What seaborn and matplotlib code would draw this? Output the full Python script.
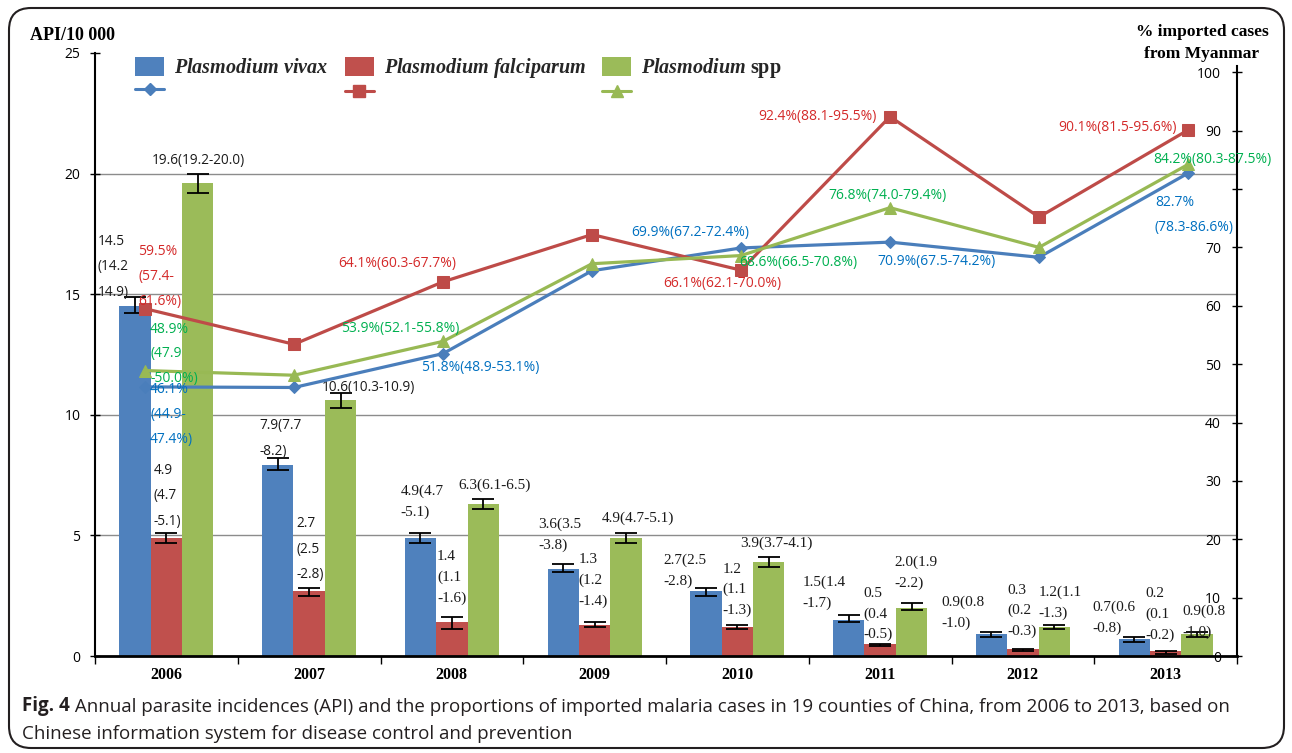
import numpy as np
import pandas as pd
import seaborn as sns
import matplotlib.pyplot as plt
from matplotlib.patches import Patch, FancyBboxPatch
from matplotlib.lines import Line2D

# ---- data ----
years = ['2006', '2007', '2008', '2009', '2010', '2011', '2012', '2013']
species = ['vivax', 'falciparum', 'spp']

# API per 10 000 with CI
vivax_api = [14.5, 7.9, 4.9, 3.6, 2.7, 1.5, 0.9, 0.7]
vivax_lo = [14.2, 7.7, 4.7, 3.5, 2.5, 1.4, 0.8, 0.6]
vivax_hi = [14.9, 8.2, 5.1, 3.8, 2.8, 1.7, 1.0, 0.8]
falc_api = [4.9, 2.7, 1.4, 1.3, 1.2, 0.5, 0.3, 0.2]
falc_lo = [4.7, 2.5, 1.1, 1.2, 1.1, 0.4, 0.2, 0.1]
falc_hi = [5.1, 2.8, 1.6, 1.4, 1.3, 0.5, 0.3, 0.2]
spp_api = [19.6, 10.6, 6.3, 4.9, 3.9, 2.0, 1.2, 0.9]
spp_lo = [19.2, 10.3, 6.1, 4.7, 3.7, 1.9, 1.1, 0.8]
spp_hi = [20.0, 10.9, 6.5, 5.1, 4.1, 2.2, 1.3, 1.0]

# % imported cases from Myanmar (CI only where labelled)
vivax_pct = [46.1, 46.0, 51.8, 66.0, 69.9, 70.9, 68.3, 82.7]
vivax_pct_lo = [44.9, None, 48.9, None, 67.2, 67.5, None, 78.3]
vivax_pct_hi = [47.4, None, 53.1, None, 72.4, 74.2, None, 86.6]
falc_pct = [59.5, 53.4, 64.1, 72.2, 66.1, 92.4, 75.2, 90.1]
falc_pct_lo = [57.4, None, 60.3, None, 62.1, 88.1, None, 81.5]
falc_pct_hi = [61.6, None, 67.7, None, 70.0, 95.5, None, 95.6]
spp_pct = [48.9, 48.1, 53.9, 67.2, 68.6, 76.8, 70.0, 84.2]
spp_pct_lo = [47.9, None, 52.1, None, 66.5, 74.0, None, 80.3]
spp_pct_hi = [50.0, None, 55.8, None, 70.8, 79.4, None, 87.5]

# ---- styling / label layout ----
bar_colors = ['#4F81BD', '#C0504D', '#9BBB59']
line_colors = ['#4A7EBB', '#BE4B48', '#98B954']
text_colors = ['#0070C0', '#D42A2A', '#00B050']
markers = ['D', 's', '^']
marker_sizes = [6.5, 9, 9]

T3 = "{v}\n({lo}\n-{hi})"
T3n = "{v}\n({lo}\n{hi})"
T2 = "{v}({lo}\n-{hi})"
T1 = "{v}({lo}-{hi})"
# (dx, dy) in pixels from the top of the error bar, template
bar_label_layout = [
    [(-37, 63, T3n), (-18, 40, T2), (-20, 48, T2), (-25, 47, T2), (-43, 35, T2), (-46, 39, T2), (-50, 36, T2), (-42, 36, T2)],
    [(-13, 70, T3), (-13, 72, T3), (-15, 67, T3), (-16, 69, T3), (-15, 62, T3), (-17, 57, T3), (-15, 65, T3), (-20, 64, T3)],
    [(-46, 21, T1), (-19, 13, T1), (-25, 21, T1), (-24, 21, T1), (-29, 21, T1), (-17, 47, T2), (-16, 39, T2), (-15, 27, T2)],
]

PS3 = "{v}%\n({lo}-\n{hi}%)"
PG3 = "{v}%\n({lo}\n-{hi}%)"
P1 = "{v}%({lo}-{hi}%)"
P2 = "{v}%\n({lo}-{hi}%)"
# year index -> (dx, dy, template, ha, va), offsets in pixels from the line point
pct_label_layout = [
    {0: (5, 5, PS3, 'left', 'top'), 2: (37, -13.5, P1, 'center', 'center'), 4: (-51, 15, P1, 'center', 'center'),
     5: (47, -19, P1, 'center', 'center'), 7: (-33, -22, P2, 'left', 'top')},
    {0: (-7, 64.5, PS3, 'left', 'top'), 2: (-46, 18.7, P1, 'center', 'center'), 4: (-19, -13, P1, 'center', 'center'),
     5: (-73, 0, P1, 'center', 'center'), 7: (-11, 3, P1, 'right', 'center')},
    {0: (5, 49, PG3, 'left', 'top'), 2: (-43, 13, P1, 'center', 'center'), 4: (57, -7, P1, 'center', 'center'),
     5: (-2, 12.5, P1, 'center', 'center'), 7: (-35, 5, P1, 'left', 'center')},
]

sns.set_theme(style='white')
plt.rcParams['font.family'] = ['Open Sans', 'DejaVu Sans']
plt.rcParams['mathtext.fontset'] = 'custom'
plt.rcParams['mathtext.it'] = 'Liberation Serif:italic:bold'
plt.rcParams['mathtext.rm'] = 'Liberation Serif:bold'

df = pd.DataFrame({
    'year': years * 3,
    'species': np.repeat(species, len(years)),
    'api': vivax_api + falc_api + spp_api,
})

W, H = 1292, 753
fig = plt.figure(figsize=(W / 100, H / 100), dpi=100)
ax = fig.add_axes([95 / W, 97 / H, 1142 / W, 603 / H])

sns.barplot(data=df, x='year', y='api', hue='species', hue_order=species,
            palette=bar_colors, width=0.66, saturation=1, errorbar=None,
            legend=False, linewidth=0, ax=ax)

vals = [vivax_api, falc_api, spp_api]
los = [vivax_lo, falc_lo, spp_lo]
his = [vivax_hi, falc_hi, spp_hi]
bar_containers = list(ax.containers)[:3]
for k, cont in enumerate(bar_containers):
    xs = [b.get_x() + b.get_width() / 2 for b in cont.patches]
    v = np.array(vals[k])
    ax.errorbar(xs, v, yerr=[v - np.array(los[k]), np.array(his[k]) - v], fmt='none',
                ecolor='black', elinewidth=1.3, capsize=8, capthick=1.3, zorder=3)
    for i, x in enumerate(xs):
        dx, dy, tpl = bar_label_layout[k][i]
        txt = tpl.format(v=f"{vals[k][i]:.1f}", lo=f"{los[k][i]:.1f}", hi=f"{his[k][i]:.1f}")
        serif = i >= 2
        ax.annotate(txt, xy=(x, his[k][i]), xytext=(dx, dy), textcoords='offset pixels',
                    ha='left', va='top', color='#1a1a1a',
                    fontsize=11 if serif else 9.8,
                    fontfamily='Liberation Serif' if serif else 'Open Sans',
                    linespacing=1.7 if serif else 1.95, zorder=5)

ax.set_xlim(-0.5, 7.5)
ax.set_ylim(0, 25)
ax.set_yticks(range(0, 26, 5))
ax.set_xticks(range(len(years)), years, fontfamily='Liberation Serif', fontweight='bold', fontsize=11.5)
ax.set_xticks(np.arange(-0.5, len(years), 1), minor=True)
ax.set_xlabel('')
ax.set_ylabel('')
ax.grid(axis='y', color='#8c8c8c', linewidth=1)
ax.set_axisbelow(True)
gl = ax.get_ygridlines()
gl[0].set_visible(False)
gl[-1].set_visible(False)
for s in ['top', 'right']:
    ax.spines[s].set_visible(False)
ax.spines['left'].set_linewidth(1.5)
ax.spines['left'].set_color('black')
ax.spines['bottom'].set_linewidth(2)
ax.spines['bottom'].set_color('black')
ax.tick_params(axis='y', left=True, direction='inout', length=7, width=1, pad=7,
               labelsize=10, colors='black')
ax.tick_params(axis='x', which='major', bottom=True, length=0, pad=8, colors='black')
ax.tick_params(axis='x', which='minor', bottom=True, length=6, width=1, direction='out', color='black')

# secondary axis for the % lines
ax2 = fig.add_axes(ax.get_position())
ax2.patch.set_visible(False)
ax2.set_xlim(-0.3356, 7.329)
ax2.set_ylim(0, 103.3)
ax2.set_xticks([])
for s in ['left', 'top', 'bottom']:
    ax2.spines[s].set_visible(False)
ax2.spines['right'].set_linewidth(1.5)
ax2.spines['right'].set_color('black')
ax2.spines['right'].set_bounds(0, 101)
ax2.yaxis.tick_right()
pct_ticks = list(range(0, 101, 10))
ax2.set_yticks(pct_ticks, labels=['' if t == 80 else str(t) for t in pct_ticks], ha='right')
ax2.tick_params(axis='y', right=True, direction='inout', length=7, width=1, pad=-15,
                labelsize=10, colors='black')

pcts = [vivax_pct, falc_pct, spp_pct]
pct_los = [vivax_pct_lo, falc_pct_lo, spp_pct_lo]
pct_his = [vivax_pct_hi, falc_pct_hi, spp_pct_hi]
line_x = np.arange(len(years))
for k in range(3):
    sns.lineplot(x=line_x, y=pcts[k], color=line_colors[k], marker=markers[k],
                 markersize=marker_sizes[k], markeredgecolor=line_colors[k],
                 linewidth=2.3, ax=ax2, zorder=3)
    for i, (dx, dy, tpl, ha, va) in pct_label_layout[k].items():
        txt = tpl.format(v=f"{pcts[k][i]:.1f}", lo=f"{pct_los[k][i]:.1f}", hi=f"{pct_his[k][i]:.1f}")
        ax2.annotate(txt, xy=(i, pcts[k][i]), xytext=(dx, dy), textcoords='offset pixels',
                     ha=ha, va=va, color=text_colors[k], fontsize=10, linespacing=1.9, zorder=5)
ax2.set_xlabel('')
ax2.set_ylabel('')

# legend: patches on top row, line samples below
handles, labels = [], []
names = [r'$\it{Plasmodium\ vivax}$', r'$\it{Plasmodium\ falciparum}$', r'$\it{Plasmodium}$ spp']
for k in range(3):
    handles.append(Patch(facecolor=bar_colors[k], edgecolor='none'))
    labels.append(names[k])
    handles.append(Line2D([], [], color=line_colors[k], marker=markers[k],
                          markersize=marker_sizes[k], linewidth=2.2))
    labels.append('')
ax.legend(handles, labels, ncol=3, loc='upper left', bbox_to_anchor=(0.035, 0.995),
          frameon=False, prop={'family': 'Liberation Serif', 'weight': 'bold', 'size': 14.5},
          handlelength=1.45, handleheight=1.1, handletextpad=0.5, columnspacing=0.8,
          labelspacing=0.12, borderaxespad=0, borderpad=0)

# axis titles
fig.text(30 / W, 1 - 36 / H, 'API/10 000', fontfamily='Liberation Serif', fontweight='bold',
         fontsize=13, va='center', color='black')
fig.text(1202 / W, 1 - 43 / H, '% imported cases\nfrom Myanmar', ha='center', va='center',
         fontfamily='Liberation Serif', fontweight='bold', fontsize=12.5, linespacing=1.55, color='black')

# caption
cap = fig.text(22 / W, 1 - 706 / H, 'Fig. 4', fontweight='bold', fontsize=13.5, va='center', color='#231f20')
fig.text(22 / W, 1 - 734 / H, 'Chinese information system for disease control and prevention',
         fontsize=13.5, va='center', color='#231f20')
ax.annotate(' Annual parasite incidences (API) and the proportions of imported malaria cases in 19 counties '
            'of China, from 2006 to 2013, based on', xy=(1, 0), xycoords=cap, ha='left', va='bottom',
            fontsize=13.5, color='#231f20', annotation_clip=False)

frame = FancyBboxPatch((9, 5), 1275, 740, boxstyle='round,pad=0,rounding_size=22',
                       transform=None, fill=False, edgecolor='#231f20', linewidth=1.5)
fig.add_artist(frame)

fig.savefig('out.png', dpi=100)
